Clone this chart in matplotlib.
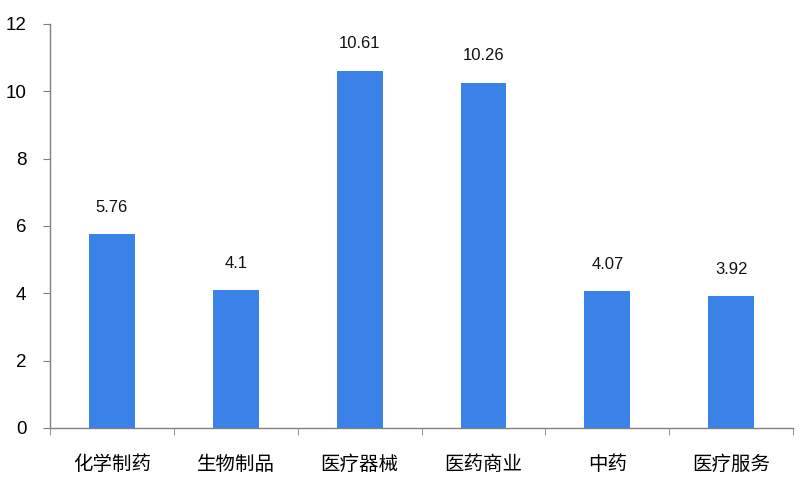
import matplotlib
matplotlib.use('Agg')
import numpy as np
import matplotlib.pyplot as plt

plt.rcParams['font.family'] = ['Liberation Sans', 'Noto Sans CJK SC', 'DejaVu Sans']

# Data
categories = ['化学制药', '生物制品', '医疗器械', '医药商业', '中药', '医疗服务']
values = [5.76, 4.1, 10.61, 10.26, 4.07, 3.92]
value_labels = ['5.76', '4.1', '10.61', '10.26', '4.07', '3.92']
y_ticks = [0, 2, 4, 6, 8, 10, 12]

fig = plt.figure(figsize=(8, 5), dpi=100)
ax = fig.add_axes([0.0625, 0.144, 0.929, 0.808])

x = np.arange(len(categories))
bars = ax.bar(x, values, width=0.37, color='#3b82e8', zorder=2)

for xi, v, lab in zip(x, values, value_labels):
    ax.annotate(lab, (xi, v), xytext=(0, 14), textcoords='offset points',
                ha='center', va='bottom', fontsize=12, color='#111111')

ax.set_xlim(-0.5, len(categories) - 0.5)
ax.set_ylim(0, 12)
ax.set_yticks(y_ticks)
ax.set_yticklabels([str(t) for t in y_ticks])

ax.set_xticks(x)
ax.set_xticklabels(categories, family=['Noto Sans CJK SC', 'DejaVu Sans'], fontsize=14)
ax.set_xticks(np.arange(-0.5, len(categories)), minor=True)
ax.tick_params(axis='x', which='major', length=0, pad=19)
ax.tick_params(axis='x', which='minor', length=5, direction='out', color='#808080')
ax.tick_params(axis='y', length=5, direction='out', color='#808080', pad=12, labelsize=13.5)

for side in ['top', 'right']:
    ax.spines[side].set_visible(False)
for side in ['left', 'bottom']:
    ax.spines[side].set_color('#808080')
    ax.spines[side].set_linewidth(1.0)

plt.savefig('out.png', dpi=100)
